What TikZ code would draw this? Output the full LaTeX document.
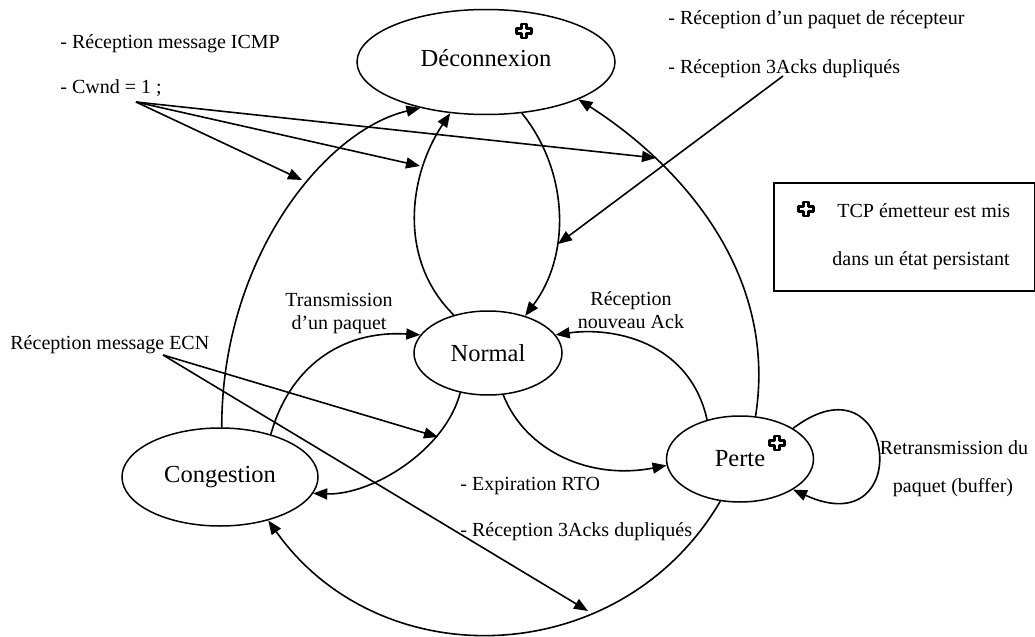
\documentclass[tikz,border=0pt]{standalone}
\usepackage{fontspec}
\setmainfont{Liberation Serif}
\usetikzlibrary{shapes.geometric,arrows.meta}

\tikzset{
  state/.style={ellipse, draw, line width=0.75pt, inner sep=0pt,
    font=\fontsize{12.25}{14}\selectfont},
  lbl/.style={inner sep=0pt, font=\fontsize{10}{12}\selectfont},
  lblc/.style={lbl, anchor=base},
  lblw/.style={lbl, anchor=base west},
  conn/.style={line width=0.8pt, -{Triangle[length=7pt,width=5.5pt]}},
  pics/pcross/.style={code={
    \draw[line width=1.15pt, fill=white, line join=round]
      (-2.6,-7) -- (2.6,-7) -- (2.6,-2.6) -- (7.4,-2.6) -- (7.4,2.6) -- (2.6,2.6)
      -- (2.6,7) -- (-2.6,7) -- (-2.6,2.6) -- (-7.4,2.6) -- (-7.4,-2.6) -- (-2.6,-2.6) -- cycle;
  }},
}

\begin{document}
\begin{tikzpicture}[x=0.5pt, y=-0.5pt]
\useasboundingbox (0,0) rectangle (1035,637);

% states
\node[state, minimum width=129pt, minimum height=52.5pt] (dec) at (486,62)
  {\raisebox{2pt}[\height][\depth]{Déconnexion}};
\node[state, minimum width=74pt, minimum height=42pt] (norm) at (488,353) {Normal};
\node[state, minimum width=98pt, minimum height=49pt] (cong) at (220,477) {Congestion};
\node[state, minimum width=73.5pt, minimum height=43pt] (perte) at (740,459) {Perte};

% persistent-state markers
\pic at (524,31) {pcross};
\pic at (777,443) {pcross};

% legend
\node[draw, line width=0.9pt, anchor=north west, inner sep=0pt,
      minimum width=130.5pt, minimum height=54pt] (legend) at (773,182) {};
\pic at (806,209) {pcross};
\node[lblw] (leg1) at (837,217) {TCP émetteur est mis};
\node[lblw] (leg2) at (832,265) {dans un état persistant};

% transitions between states
\draw[conn] (cong.88) .. controls +(0,-170) and +(-95,22) .. (dec.215);
\draw[conn] (norm.132) .. controls +(-56,-55) and +(-42,63) .. (dec.235);
\draw[conn] (dec.305) .. controls +(47,58) and +(46,-61) .. (norm.45);
\draw[conn] (perte.70) .. controls +(23,-147) and +(97,62) .. (dec.338);
\draw[conn] (norm.235) .. controls +(-15,58) and +(58,2) .. (cong.350);
\draw[conn] (cong.40) .. controls +(18,-65) and +(-81,-5) .. (norm.165);
\draw[conn] (norm.290) .. controls +(22,56) and +(-77,15) .. (perte.185);
\draw[conn] (perte.130) .. controls +(-18,-80) and +(55,-8) .. (norm.15);
\draw[conn] (perte.245) .. controls +(-99,169) and +(113,159) .. (cong.318);
\draw[conn] (perte.30) .. controls +(103,-78) and +(123,56) .. (perte.330);

% event labels
\node[lblw] (icmp) at (60,48) {- Réception message ICMP};
\node[lblw] (cwndlbl) at (60,93) {- Cwnd = 1 ;};
\node[lblw] (rcv) at (668,25) {- Réception d’un paquet de récepteur};
\node[lblw] (acks1) at (668,74) {- Réception 3Acks dupliqués};
\node[lblc] (tx1) at (339,306) {Transmission};
\node[lblc] (tx2) at (339,329) {d’un paquet};
\node[lblc] (ack1) at (631,305) {Réception};
\node[lblc] (ack2) at (631,328) {nouveau Ack};
\node[lblw] (ecnlbl) at (10,349) {Réception message ECN};
\node[lblw] (rto) at (460,490) {- Expiration RTO};
\node[lblw] (acks2) at (460,536) {- Réception 3Acks dupliqués};
\node[lblc] (re1) at (954,454) {Retransmission du};
\node[lblc] (re2) at (953,492) {paquet (buffer)};

% pointers from events to transitions
\coordinate (cwnd) at (136,102);
\coordinate (cw1) at (302,180);
\coordinate (cw2) at (420,166);
\coordinate (cw3) at (656,158);
\coordinate (acksrc) at (783,76);
\coordinate (ak) at (558,244);
\coordinate (ecn) at (163,355);
\coordinate (ec1) at (438,437);
\coordinate (ec2) at (588,611);

\draw[conn] (cwnd) -- (cw1);
\draw[conn] (cwnd) -- (cw2);
\draw[conn] (cwnd) -- (cw3);
\draw[conn] (acksrc) -- (ak);
\draw[conn] (ecn) -- (ec1);
\draw[conn] (ecn) -- (ec2);
\end{tikzpicture}
\end{document}
